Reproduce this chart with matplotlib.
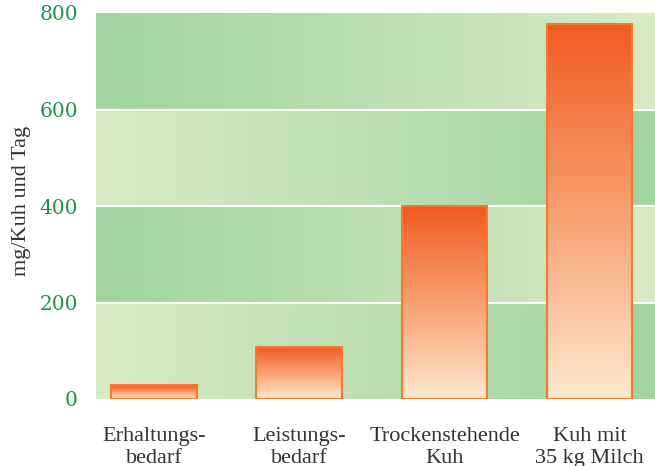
import numpy as np
import matplotlib
matplotlib.use('Agg')
import matplotlib.pyplot as plt
from matplotlib.colors import LinearSegmentedColormap

# data
categories = ['Erhaltungs-\nbedarf', 'Leistungs-\nbedarf', 'Trockenstehende\nKuh', 'Kuh mit\n35 kg Milch']
values = [29, 108, 400, 778]
yticks = [0, 200, 400, 600, 800]

green_dark = '#a0d4a0'
green_light = '#d8eac5'
bar_top = '#f25a22'
bar_bot = '#fde9cf'

plt.rcParams['font.family'] = ['Liberation Serif']

fig = plt.figure(figsize=(6.55, 4.66), dpi=100)
ax = fig.add_axes([96/655, 67/466, 1 - 96/655, (399-13)/466])

xmin, xmax = -0.40, 3.45
ymin, ymax = 0, 800

# background bands with horizontal gradients, alternating direction
band_cmap = LinearSegmentedColormap.from_list('band', [green_light, green_dark])
grad = np.linspace(0, 1, 256).reshape(1, -1)
for i in range(len(yticks) - 1):
    g = grad if i % 2 == 0 else grad[:, ::-1]
    ax.imshow(g, cmap=band_cmap, aspect='auto', extent=[xmin, xmax, yticks[i], yticks[i+1]],
              zorder=0, interpolation='bicubic')
for y in yticks[1:-1]:
    ax.axhline(y, color='white', lw=1.5, zorder=1)

# bars with vertical gradient
bar_cmap = LinearSegmentedColormap.from_list('bar', [bar_bot, '#f8a070', bar_top])
vgrad = np.linspace(0, 1, 256).reshape(-1, 1)
width = 0.59
for i, v in enumerate(values):
    ax.imshow(vgrad, cmap=bar_cmap, aspect='auto', origin='lower',
              extent=[i - width/2, i + width/2, 0, v], zorder=2)
    ax.bar(i, v, width=width, facecolor='none', edgecolor='#f47a30', lw=1.5, zorder=3)

ax.set_xlim(xmin, xmax)
ax.set_ylim(ymin, ymax)
ax.set_yticks(yticks)
ax.set_yticklabels([str(t) for t in yticks], color='#1a9550', fontsize=14.5, family='DejaVu Serif')
ax.set_xticks(range(len(categories)))
ax.set_xticklabels(categories, color='#333333', fontsize=16, linespacing=1.2)
ax.tick_params(axis='y', length=0, pad=13)
ax.tick_params(axis='x', length=0, pad=20)
for s in ax.spines.values():
    s.set_visible(False)
fig.text(22/655, 1 - 201/466, 'mg/Kuh und Tag', rotation=90, ha='center', va='center',
         color='#333333', fontsize=16)

fig.savefig('out.png', dpi=100)
